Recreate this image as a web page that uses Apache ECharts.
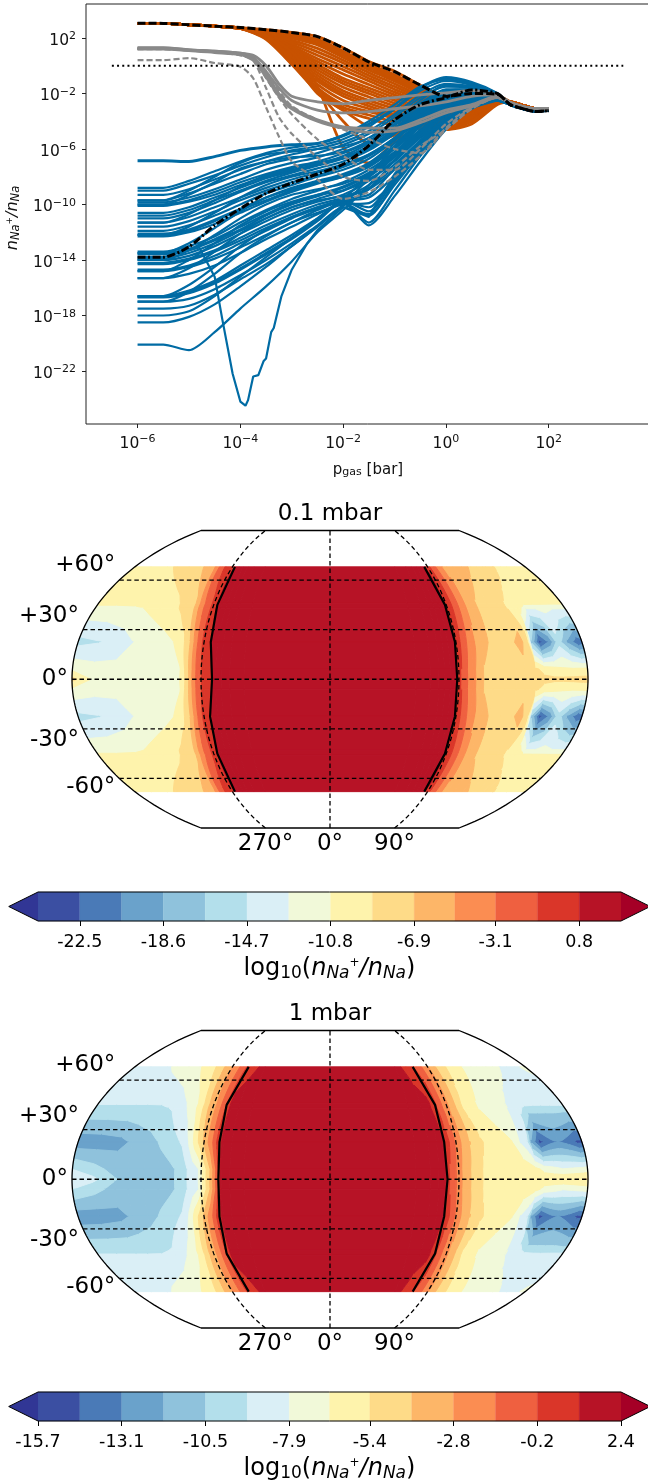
<!DOCTYPE html>
<html><head><meta charset="utf-8">
<style>html,body{margin:0;padding:0;background:#fff;overflow:hidden}#c{width:648px;height:1481px;filter:blur(0.4px)}</style>
<script src="https://cdn.jsdelivr.net/npm/echarts@6/dist/echarts.min.js"></script>
</head><body><div id="c"></div><script>
// ---------- profile chart data (log10 values) ----------
const pressureExp=[-6,-5.5,-5,-4.5,-4,-3.5,-3,-2.5,-2,-1.5,-1,-0.5,0,0.5,1];
const tailExp=[1.25,1.5,1.75,2];
const blueTail=[-2.8,-3.1,-3.3,-3.2];
const orangeTail=[-2.6,-2.85,-3.1,-3.1];
const greyTail=[-2.65,-2.95,-3.1,-3.1];
const blackTail=[-2.8,-3.1,-3.3,-3.24];
const blueLines=[
[-6.85,-6.85,-6.9,-6.55,-6.1,-5.85,-5.7,-5.6,-5.05,-4.2,-3.1,-1.6,-0.85,-1.2,-2],
[-8.8,-8.8,-8.3,-7.6,-6.9,-6.3,-5.9,-5.6,-5,-4,-2.8,-1.5,-1,-1.3,-2],
[-9,-9,-8.5,-7.9,-7.2,-6.6,-6.1,-5.8,-5.3,-4.4,-3.1,-1.8,-1.1,-1.4,-2.1],
[-9.3,-9.3,-8.9,-8.2,-7.5,-6.9,-6.4,-6,-5.5,-4.7,-3.5,-2.1,-1.3,-1.5,-2.1],
[-9.7,-9.7,-9.2,-8.5,-7.8,-7.1,-6.7,-6.3,-5.7,-4.9,-3.7,-2.3,-1.5,-1.6,-2.1],
[-9.85,-9.85,-9.5,-8.9,-8.2,-7.5,-7,-6.6,-6,-5.2,-4,-2.7,-1.7,-1.7,-2.2],
[-10,-10,-9.7,-9.1,-8.4,-7.8,-7.3,-6.9,-6.3,-5.5,-4.3,-3,-1.9,-1.8,-2.2],
[-10.1,-10.1,-9.8,-9.3,-8.6,-8,-7.5,-7.1,-6.5,-5.6,-4.5,-3.1,-2,-1.85,-2.2],
[-10.6,-10.6,-10.2,-9.5,-8.8,-8.1,-7.6,-7.1,-6.6,-5.8,-4.6,-3.2,-2.2,-1.9,-2.2],
[-11,-11,-10.6,-9.9,-9.1,-8.4,-7.9,-7.4,-6.9,-6.1,-4.9,-3.5,-2.4,-2,-2.3],
[-11.3,-11.3,-10.9,-10.2,-9.5,-8.8,-8.2,-7.7,-7.2,-6.4,-5.2,-3.7,-2.6,-2.1,-2.3],
[-11.9,-11.9,-11.5,-10.8,-10,-9.2,-8.6,-8,-7.5,-6.7,-5.4,-3.9,-2.8,-2.2,-2.3],
[-12.1,-12.1,-11.8,-11.1,-10.3,-9.5,-8.8,-8.3,-7.8,-7,-5.6,-4.1,-3,-2.3,-2.3],
[-12.3,-12.3,-12,-11.4,-10.6,-9.8,-9.1,-8.5,-8,-7.2,-5.9,-4.3,-3.1,-2.4,-2.4],
[-13.4,-13.4,-13,-12.3,-11.3,-10.4,-9.6,-9,-8.4,-7.5,-6.2,-4.6,-3.3,-2.5,-2.4],
[-13.5,-13.5,-13.2,-12.5,-11.6,-10.7,-9.9,-9.3,-8.7,-7.8,-6.4,-4.8,-3.5,-2.6,-2.4],
[-13.9,-13.9,-13.5,-12.8,-11.9,-11,-10.2,-9.6,-9,-8,-6.6,-5,-3.6,-2.6,-2.4],
[-14,-14,-13.7,-13,-12.1,-11.2,-10.4,-9.8,-9.3,-8.3,-6.8,-5.2,-3.8,-2.7,-2.4],
[-14.2,-14.2,-13.9,-13.3,-12.4,-11.5,-10.7,-10,-9.5,-8.6,-7.1,-5.4,-3.9,-2.8,-2.5],
[-14.7,-14.7,-14.4,-13.7,-12.8,-11.9,-11,-10.3,-9.6,-9.3,-7.4,-5.6,-4,-2.9,-2.5],
[-14.8,-14.8,-14.5,-13.9,-13.1,-12.2,-11.3,-10.4,-9.8,-10.2,-8,-5.9,-4.2,-2.9,-2.5],
[-15.3,-15.3,-15,-14.4,-13.5,-12.5,-11.6,-10.7,-9.9,-10.8,-8.4,-6.2,-4.3,-3,-2.5],
[-16.6,-16.6,-16.2,-15.5,-14.4,-13.3,-12.2,-11,-9.9,-11.3,-9,-6.5,-4.5,-3,-2.5],
[-16.7,-16.7,-16.4,-15.7,-14.7,-13.6,-12.5,-11.2,-9.8,-11.5,-9.4,-6.9,-4.6,-3.1,-2.5],
[-17,-17,-16.8,-16.1,-15.1,-14,-12.8,-11.5,-10.2,-10.7,-8.6,-6.3,-4.4,-3,-2.5],
[-17.5,-17.5,-17.3,-16.5,-15.4,-14.3,-13,-11.6,-10.1,-8.9,-6.8,-4.9,-3.3,-2.6,-2.5],
[-18,-18,-17.7,-16.6,-15.2,-13.8,-12.4,-11,-9.6,-7.9,-5.9,-4.2,-3,-2.5,-2.5],
[-18.5,-18.5,-18.1,-17.2,-15.9,-14.5,-13,-11.6,-10,-8.1,-5.8,-4,-2.9,-2.5,-2.5],
[-20.1,-20.1,-20.5,-19.2,-17.5,-15.9,-14.1,-12,-10.4,-8.6,-6.4,-4.3,-3,-2.5,-2.5],
[-10.8,-10.8,-10.4,-9.7,-9,-8.3,-7.7,-7.2,-6.7,-6,-4.8,-3.3,-2.3,-1.9,-2.2],
[-11.6,-11.6,-11.2,-10.5,-9.7,-9,-8.4,-7.9,-7.3,-6.5,-5.3,-3.8,-2.7,-2.2,-2.3],
[-12.2,-12.2,-11.9,-11.2,-10.4,-9.7,-9,-8.4,-7.9,-7.1,-5.8,-4.2,-3,-2.3,-2.3],
[-13.6,-13.6,-13.3,-12.6,-11.8,-10.8,-10,-9.4,-8.8,-7.9,-6.5,-4.9,-3.5,-2.6,-2.4],
[-14.3,-14.3,-14,-13.4,-12.6,-11.7,-10.9,-10.2,-9.6,-8.8,-7.3,-5.5,-4,-2.8,-2.5],
[-16.65,-16.65,-16.3,-15.6,-14.6,-13.5,-12.4,-11.1,-9.7,-10.5,-8.2,-6,-4.3,-3,-2.5],
[-9.7,-9.7,-9,-8,-7,-6.4,-6.2,-6,-5.8,-5.2,-4,-2.5,-1.4,-1.5,-2.1],
[-10,-10,-9.3,-8.4,-7.4,-6.9,-6.6,-6.5,-6.2,-5.4,-4.2,-2.8,-1.8,-1.7,-2.2],
[-11.3,-11.3,-10.7,-9.7,-8.7,-7.9,-7.4,-7,-6.6,-5.9,-4.7,-3.4,-2.2,-1.9,-2.2],
[-12.2,-12.2,-11.6,-10.6,-9.5,-8.6,-8,-7.6,-7.1,-6.4,-5.2,-3.6,-2.5,-2,-2.3],
[-13.5,-13.5,-12.8,-11.7,-10.5,-9.5,-8.9,-8.4,-8,-7.3,-6,-4.4,-3.1,-2.3,-2.3],
[-14,-14,-13.3,-12.2,-11,-10,-9.3,-8.9,-8.5,-7.7,-6.3,-4.7,-3.3,-2.5,-2.4],
[-14.8,-14.8,-14,-12.8,-11.5,-10.5,-9.8,-9.3,-9,-8.2,-6.9,-5.1,-3.6,-2.6,-2.4],
[-15.3,-15.3,-14.6,-13.4,-12.1,-11,-10.2,-9.7,-9.4,-8.9,-7.5,-5.4,-3.8,-2.8,-2.5],
[-16.6,-16.6,-15.8,-14.5,-13,-11.8,-10.9,-10.2,-9.7,-9.5,-7.9,-5.7,-4,-2.9,-2.5],
[-17,-17,-16.3,-15,-13.5,-12.3,-11.3,-10.6,-10,-9.9,-8.3,-6,-4.1,-3,-2.5]
];
const dipExp=[-6,-5.5,-5.2,-4.8,-4.5,-4.35,-4.15,-4,-3.9,-3.85,-3.75,-3.65,-3.55,-3.5,-3.4,-3.35,-3.2,-3,-2.7,-2.5,-2,-1.5,-1,-0.5,0,0.5,1];
const dipValues=[-13.8,-13.8,-13.5,-13.1,-15.2,-18.3,-22.2,-24.2,-24.5,-24.1,-22.4,-22.3,-21.3,-21.1,-19.2,-18.9,-16.6,-14.7,-12.8,-11.85,-10.2,-10.9,-7.8,-5.6,-4.2,-3,-2.5];
const orangeLines=[
[3.06,3.05,2.95,2.85,2.75,2.6,2.4,2.1,1.3,0.3,-0.4,-1.4,-2.2,-2,-2.1],
[3.06,3.05,2.95,2.85,2.7,2.55,2.3,1.9,1.05,0.1,-0.65,-1.55,-2.35,-2.15,-2.15],
[3.06,3.05,2.95,2.85,2.7,2.5,2.2,1.8,0.9,0,-0.8,-1.7,-2.5,-2.3,-2.2],
[3.06,3.05,2.95,2.85,2.7,2.45,2.1,1.65,0.75,-0.15,-0.95,-1.85,-2.65,-2.45,-2.25],
[3.06,3.05,2.95,2.85,2.7,2.4,2,1.5,0.6,-0.3,-1.1,-2,-2.8,-2.6,-2.3],
[3.06,3.05,2.95,2.85,2.7,2.38,1.85,1.25,0.4,-0.5,-1.3,-2.15,-2.95,-2.75,-2.35],
[3.06,3.05,2.95,2.85,2.7,2.35,1.7,1,0.2,-0.7,-1.5,-2.3,-3.1,-2.9,-2.4],
[3.06,3.05,2.95,2.85,2.7,2.32,1.55,0.75,-0.05,-0.9,-1.7,-2.45,-3.2,-3,-2.4],
[3.06,3.05,2.95,2.85,2.7,2.3,1.4,0.5,-0.3,-1.1,-1.9,-2.6,-3.3,-3.1,-2.4],
[3.06,3.05,2.95,2.85,2.7,2.28,1.3,0.3,-0.6,-1.35,-2.1,-2.8,-3.4,-3.2,-2.45],
[3.06,3.05,2.95,2.85,2.7,2.25,1.2,0.1,-0.9,-1.6,-2.3,-3,-3.5,-3.3,-2.5],
[3.06,3.05,2.95,2.85,2.7,2.22,1.1,-0.1,-1.1,-1.8,-2.5,-3.15,-3.6,-3.35,-2.5],
[3.06,3.05,2.95,2.85,2.7,2.2,1,-0.3,-1.3,-2,-2.7,-3.3,-3.7,-3.4,-2.5],
[3.06,3.05,2.95,2.85,2.7,2.18,0.85,-0.5,-1.55,-2.25,-2.9,-3.45,-3.8,-3.45,-2.5],
[3.06,3.05,2.95,2.85,2.7,2.15,0.7,-0.7,-1.8,-2.5,-3.1,-3.6,-3.9,-3.5,-2.5],
[3.06,3.05,2.95,2.85,2.7,2.12,0.55,-0.9,-2,-2.7,-3.3,-3.75,-4,-3.6,-2.55],
[3.06,3.05,2.95,2.85,2.7,2.1,0.4,-1.1,-2.2,-2.9,-3.5,-3.9,-4.1,-3.7,-2.6],
[3.06,3.05,2.95,2.85,2.7,2.05,0.3,-1.35,-2.5,-3.1,-3.65,-4.05,-4.2,-3.8,-2.6],
[3.06,3.05,2.95,2.85,2.7,2,0.2,-1.6,-2.8,-3.3,-3.8,-4.2,-4.3,-3.9,-2.6],
[3.06,3.05,2.95,2.85,2.7,1.95,0.15,-1.75,-3,-3.55,-4.05,-4.35,-4.4,-3.95,-2.65],
[3.06,3.05,2.95,2.85,2.7,1.9,0.1,-1.9,-3.2,-3.8,-4.3,-4.5,-4.5,-4,-2.7],
[3.06,3.05,2.95,2.85,2.7,2.2,1,-1.5,-5.9,-7,-5.5,-4.5,-4.5,-4,-2.7],
[3.06,3.05,2.95,2.85,2.7,2.15,0.6,-1.8,-4,-5.6,-5,-4.2,-4.4,-4,-2.7],
[3.06,3.05,2.95,2.85,2.7,2.2,0.4,-2,-3.2,-4.4,-4.8,-4.4,-4.6,-4.2,-2.8]
];
const greyExp=[-6,-5.5,-5,-4.5,-4,-3.75,-3.5,-3.25,-3,-2.5,-2,-1.5,-1,-0.5,0,0.5,1];
const greySolid=[
[1.3,1.3,1.15,1.05,0.9,0.75,0,-1.3,-2.2,-2.6,-2.75,-2.5,-2.3,-2.1,-1.95,-1.8,-2.1],
[1.27,1.27,1.15,1.05,0.9,0.6,-0.4,-1.6,-2.5,-3.2,-3.4,-3.3,-3.1,-2.9,-2.6,-2.2,-2.1],
[1.23,1.23,1.12,1,0.85,0.5,-0.6,-2,-3,-3.9,-4.4,-4.5,-4.5,-3.9,-3.2,-2.8,-2.2],
[1.2,1.2,1.1,0.95,0.8,0.4,-0.8,-2.2,-3.1,-4,-4.5,-4.8,-4.7,-4.1,-3.4,-2.9,-2.3]
];
const greyDashed=[
[0.4,0.4,0.55,0.2,-0.07,-0.9,-3,-5.1,-6.9,-8.2,-9.6,-9.1,-8,-6.5,-4.5,-3,-2.3],
[1.2,1.2,1.1,1,0.75,0.4,-1.6,-3.7,-4.9,-6.6,-8,-8.3,-7.3,-5.8,-4.6,-3.1,-2.3],
[1.22,1.22,1.1,1,0.8,0.5,-0.9,-2.3,-3.5,-5.3,-6.5,-7.5,-7.5,-6,-4.2,-3,-2.3],
[1.25,1.25,1.12,1,0.85,0.55,-0.5,-1.8,-2.9,-3.9,-4.6,-5.3,-6,-6.3,-4.6,-3.1,-2.3]
];
const blackDashed=[3.06,3.05,2.95,2.85,2.75,2.6,2.4,2.1,1.28,0.27,-0.43,-1.39,-2.2,-2,-2.05];
const blackDashDot=[-13.8,-13.8,-13.05,-11.5,-10.3,-9.2,-8.45,-7.8,-7.1,-5.75,-3.9,-2.8,-2.3,-1.75,-2];
const dottedExp=[-6.5,3.45];
const dottedValue=[0,0];
const xTicks=[-6,-4,-2,0,2];
const yTicks=[2,-2,-6,-10,-14,-18,-22];

// ---------- map data: log10(nNa+/nNa) on a lon/lat grid ----------
const lonNodes=[-180,-165,-150,-141,-130,-120,-112,-105,-100,-96,-92,-88,-84,-80,-76,-70,-60,60,70,76,80,84,88,92,96,100,104,108,114,122,130,136,141,144,150,157,163,170,177,180];
const latNodes=[68,46,43,22.5,6,0,-6,-22.5,-43,-46,-68];
const a68=[-10,-9.7,-9.1,-8.7,-8.1,-7.3,-6.4,-4.8,-2,-0.9,-0.4,0.8,2,2.3,2.5,2.6,2.7, 2.7,2.6,2.5,2.3,1.5,0.75,-1.16,-2.7,-3.8,-5.04,-5.5,-6,-6.6,-7.05,-7.5,-7.9,-8.1,-8.7,-9.4,-9.8,-10,-10,-10];
const a46=[-10.4,-10.4,-10.3,-10.2,-9.8,-9.3,-8.3,-7.4,-4.6,-2.7,-1.4,0.5,2,2.3,2.5,2.6,2.7, 2.7,2.6,2.5,2.3,2,1.1,-0.4,-1.9,-3.5,-4.9,-5.7,-7,-7.7,-8.4,-8.95,-9.5,-9.8,-10.2,-10.3,-10.4,-10.4,-10.4,-10.4];
const a43=[-11.4,-11.4,-11.2,-10.7,-10,-9.4,-8.4,-7.4,-4.6,-2.7,-1.4,0.5,2,2.3,2.5,2.6,2.7, 2.7,2.6,2.5,2.3,2,1.1,-0.4,-1.9,-3.5,-4.9,-5.7,-7,-7.7,-8.4,-8.9,-9.3,-9.6,-12.6,-12.6,-12.3,-12.6,-12.6,-12.6];
const a22=[-15.3,-14.8,-13.8,-12.8,-12.2,-11.5,-10.86,-9.3,-6.98,-4.2,-1.4,-0.3,0.9,2,2.4,2.6,2.7, 2.7,2.6,2.5,2.3,1.5,0.95,-0.7,-2.6,-3.9,-5.1,-5.9,-7.1,-7.5,-7.3,-6,-8.6,-17,-23,-20,-15.5,-19,-22,-21.5];
const a06=[-11.2,-12,-12.2,-12.1,-11.9,-11.7,-11.4,-11,-7.8,-4.7,-1.9,-0.6,0.5,1.6,2.3,2.6,2.7, 2.7,2.6,2.5,2.2,1.7,0.95,-1.16,-3.1,-4.4,-5.8,-7.1,-7.5,-7.6,-7.7,-7.9,-8.1,-8.5,-9.5,-10,-10.5,-10.5,-10.3,-10.3];
const a00=[-8.2,-11.2,-12,-12,-11.9,-11.8,-11.5,-10.9,-8.2,-4.7,-1.9,-0.6,0.4,1.5,2.3,2.6,2.7, 2.7,2.6,2.5,2.2,1.7,0.95,-1.16,-3.1,-4.4,-5.8,-7.1,-7.5,-7.6,-7.7,-7.9,-8.1,-8.2,-8.4,-8.5,-8.4,-8.3,-8.2,-8.2];
const b68=[-8.6,-8.4,-8.05,-7.7,-7.25,-6.8,-6.1,-5.4,-4.6,-3.9,-3.2,-2.5,-1.7,-0.85,-0.05,0.6,1.7, 1.8,0.5,-0.1,-0.7,-1.4,-2.2,-3.1,-3.9,-4.5,-5.1,-5.55,-6.05,-6.7,-7,-7.25,-7.4,-7.5,-7.7,-7.94,-8.1,-8.15,-7.8,-7.7];
const b46=[-9.1,-9.1,-9.1,-9.1,-9.1,-8.7,-8,-7.2,-6.2,-5,-3.7,-2.85,-1.55,-0.19,1.6,2,2.2, 2,1.7,1.4,0.5,-0.9,-1.9,-2.9,-3.9,-5.2,-5.7,-6.1,-6.7,-7.15,-7.6,-7.9,-8.2,-8.3,-8.5,-8.6,-8.6,-8.6,-8.6,-8.6];
const b43=[-9.5,-9.5,-9.5,-9.5,-9.4,-9.1,-8.3,-7.2,-6.2,-5,-3.7,-2.85,-1.55,-0.19,1.6,2,2.2, 2,1.7,1.4,0.5,-0.9,-1.9,-2.9,-3.9,-5.2,-5.7,-6.1,-6.7,-7.15,-7.6,-7.9,-8.3,-8.6,-9.8,-10,-10.1,-10,-10,-10];
const b22=[-12.6,-12.5,-12.2,-11.6,-11,-10.3,-9.6,-9,-7.6,-6,-4.7,-3.1,-1.6,0.3,1.6,2,2.2, 2.2,2,1.8,1.4,0.2,-1.1,-2.5,-3.3,-4.07,-4.7,-5.3,-5.7,-6.2,-6.6,-8,-9.2,-12,-14.8,-13.5,-13,-13.6,-14.7,-14.7];
const b06=[-9.2,-10,-11,-11.2,-11.3,-11.1,-10.8,-10.2,-9.24,-8.6,-7.94,-6.1,-4.2,-1.6,1.5,2,2.2, 2.2,2,1.7,1.5,-0.3,-1.5,-2.8,-3.7,-4.4,-5.2,-5.5,-5.7,-5.8,-5.9,-5.9,-6.1,-6.3,-7,-7.4,-7.8,-7.6,-7.4,-7.2];
const b00=[-8.2,-8.9,-10.4,-11,-11.2,-11.1,-10.8,-10.2,-9.24,-8.6,-7.94,-6.1,-4.2,-1.6,1.5,2,2.2, 2.2,2,1.7,1.5,-0.3,-1.5,-2.8,-3.7,-4.4,-5.2,-5.5,-5.7,-5.8,-5.9,-5.9,-6,-6,-6,-5.8,-5.6,-5.5,-5.4,-5.4];
const field1=[a68,a46,a43,a22,a06,a00,a06,a22,a43,a46,a68];
const field2=[b68,b46,b43,b22,b06,b00,b06,b22,b43,b46,b68];
const levels1=[-24.45,-22.5,-20.55,-18.6,-16.65,-14.7,-12.75,-10.8,-8.85,-6.9,-5,-3.1,-1.15,0.8,2.75];
const levels2=[-15.7,-14.4,-13.1,-11.8,-10.5,-9.2,-7.9,-6.65,-5.4,-4.1,-2.8,-1.5,-0.2,1.1,2.4];
const cbarTicks1=[-22.5,-18.6,-14.7,-10.8,-6.9,-3.1,0.8];
const cbarTicks2=[-15.7,-13.1,-10.5,-7.9,-5.4,-2.8,-0.2,2.4];
const bandColors=['#3b4fa2','#4a7ab7','#6aa2cb','#8fc2dc','#b3dfeb','#daeff6','#f1f9d9','#fef3ac','#fedb88','#fdb668','#fb8d52','#ef6040','#da3629','#b71326'];
const underColor='#313695', overColor='#a50026';
const contourLat=[68,45,22.5,0,-22.5,-45,-68];
const zeroWest1=[-87.7,-87.2,-85.2,-82.3,-85.7,-87.2,-87.7];
const zeroEast1=[87,89,89.3,88.8,89.3,89,87];
const zeroWest2=[-75,-80,-79,-77.9,-79,-80,-75];
const zeroEast2=[76.3,81.3,81.6,82,81.6,81.3,76.3];
const latTicks=[60,30,0,-30,-60];
const latTickLabels=['+60°','+30°','0°','-30°','-60°'];
const latLabelShift=[-15,-14,0,11,9];
const lonTicks=[-90,0,90];
const lonTickLabels=['270°','0°','90°'];

// ---------- helpers ----------
const FONT='DejaVu Sans';
const D2R=Math.PI/180;
function kav7(lon,lat){const p=lat*D2R,l=lon*D2R;return [1.5*l/Math.PI*Math.sqrt(Math.PI*Math.PI/3-p*p),p];}
const XMAX=1.5*Math.sqrt(Math.PI*Math.PI/3), YMAX=Math.PI/2;

function clip(poly,level,keepAbove){
  const out=[];
  for(let i=0;i<poly.length;i++){
    const a=poly[i],b=poly[(i+1)%poly.length];
    const ina=keepAbove?a[2]>=level:a[2]<=level, inb=keepAbove?b[2]>=level:b[2]<=level;
    if(ina)out.push(a);
    if(ina!==inb){const t=(level-a[2])/(b[2]-a[2]);out.push([a[0]+t*(b[0]-a[0]),a[1]+t*(b[1]-a[1]),level]);}
  }
  return out;
}
function densify(poly){
  const out=[];
  for(let i=0;i<poly.length;i++){
    const a=poly[i],b=poly[(i+1)%poly.length];
    const n=Math.max(1,Math.ceil(Math.abs(b[1]-a[1])/4));
    for(let k=0;k<n;k++){const t=k/n;out.push(kav7(a[0]+t*(b[0]-a[0]),a[1]+t*(b[1]-a[1])));}
  }
  return out;
}
function contourPieces(field,levels){
  const pieces=[];
  const cols=[underColor].concat(bandColors,[overColor]);
  for(let r=0;r<latNodes.length-1;r++)for(let c=0;c<lonNodes.length-1;c++){
    const quad=[[lonNodes[c],latNodes[r],field[r][c]],[lonNodes[c+1],latNodes[r],field[r][c+1]],
                [lonNodes[c+1],latNodes[r+1],field[r+1][c+1]],[lonNodes[c],latNodes[r+1],field[r+1][c]]];
    for(let k=0;k<cols.length;k++){
      let poly=quad;
      if(k>0)poly=clip(poly,levels[k-1],true);
      if(k<cols.length-1&&poly.length)poly=clip(poly,levels[k],false);
      if(poly.length>=3)pieces.push({color:cols[k],pts:densify(poly)});
    }
  }
  return pieces;
}
function lineSeries(xs,ys,style,extra){
  return Object.assign({type:'line',xAxisIndex:0,yAxisIndex:0,showSymbol:false,silent:true,animation:false,smooth:0.25,
    lineStyle:style,data:xs.map((e,i)=>[Math.pow(10,e),Math.pow(10,ys[i])])},extra||{});
}
const xAll=pressureExp.concat(tailExp), gAll=greyExp.concat(tailExp);
const series=[];
orangeLines.forEach(l=>series.push(lineSeries(xAll,l.concat(orangeTail),{color:'#C85200',width:2.8})));
blueLines.forEach((l,i)=>series.push(lineSeries(xAll,l.concat(blueTail),{color:'#006BA4',width:i===0?3:2.2})));
series.push(lineSeries(dipExp.concat(tailExp),dipValues.concat(blueTail),{color:'#006BA4',width:2.2},{smooth:false}));
greyDashed.forEach(l=>series.push(lineSeries(gAll,l.concat(greyTail),{color:'#898989',width:2.2,type:[6,3]})));
greySolid.forEach(l=>series.push(lineSeries(gAll,l.concat(greyTail),{color:'#898989',width:2.8})));
series.push(lineSeries(xAll,blackDashed.concat(blackTail),{color:'#000',width:3,type:[8,3]}));
series.push(lineSeries(xAll,blackDashDot.concat(blackTail),{color:'#000',width:3,type:[8,2.5,2,2.5]}));
series.push(lineSeries(dottedExp,dottedValue,{color:'#000',width:2,type:[2,3.2]},{smooth:false}));

function addMap(gi,field,levels,west,east){
  const pieces=contourPieces(field,levels);
  series.push({type:'custom',xAxisIndex:gi,yAxisIndex:gi,silent:true,animation:false,clip:false,z:2,
    data:pieces.map((p,i)=>i),
    renderItem(params,api){
      const p=pieces[params.dataIndex];
      return {type:'polygon',shape:{points:p.pts.map(q=>api.coord(q))},
        style:{fill:p.color,stroke:p.color,lineWidth:1}};
    }});
  const ml=(d,style,z)=>series.push({type:'line',xAxisIndex:gi,yAxisIndex:gi,showSymbol:false,silent:true,animation:false,z:z||3,clip:false,lineStyle:style,data:d});
  const dash={color:'#000',width:1.3,type:[4.5,3]};
  latTicks.forEach(lat=>ml([kav7(-180,lat),kav7(180,lat)],dash));
  lonTicks.forEach(lon=>{const d=[];for(let lat=-90;lat<=90;lat+=3)d.push(kav7(lon,lat));ml(d,dash);});
  const zs={color:'#000',width:2.2};
  ml(contourLat.map((la,i)=>kav7(west[i],la)),zs,4);
  ml(contourLat.map((la,i)=>kav7(east[i],la)),zs,4);
  const o=[];for(let lat=-90;lat<=90;lat+=2)o.push(kav7(-180,lat));
  for(let lat=90;lat>=-90;lat-=2)o.push(kav7(180,lat));o.push(o[0]);
  ml(o,{color:'#000',width:1.3},5);
  const labelStyle={show:true,color:'#000',fontFamily:FONT,fontSize:23};
  series.push({type:'scatter',xAxisIndex:gi,yAxisIndex:gi,symbolSize:0,itemStyle:{opacity:1},silent:true,animation:false,clip:false,
    data:latTicks.map((lat,i)=>({value:kav7(-180,lat),label:Object.assign({},labelStyle,{position:'left',distance:4,offset:[0,latLabelShift[i]],formatter:latTickLabels[i]})}))});
  series.push({type:'scatter',xAxisIndex:gi,yAxisIndex:gi,symbolSize:0,itemStyle:{opacity:1},silent:true,animation:false,clip:false,
    data:lonTicks.map((lon,i)=>({value:kav7(lon,-90),label:Object.assign({},labelStyle,{position:'bottom',distance:5,formatter:lonTickLabels[i]})}))});
}
addMap(1,field1,levels1,zeroWest1,zeroEast1);
addMap(2,field2,levels2,zeroWest2,zeroEast2);

function addBar(gi,levels){
  const step=levels[1]-levels[0], lo=levels[0], hi=levels[levels.length-1], ext=0.7*step;
  series.push({type:'custom',xAxisIndex:gi,yAxisIndex:gi,silent:true,animation:false,clip:false,z:2,
    data:bandColors.map((c,i)=>[levels[i],levels[i+1],i]),
    renderItem(params,api){
      const a=api.coord([api.value(0),0]),b=api.coord([api.value(1),1]);
      const c=bandColors[api.value(2)];
      return {type:'rect',shape:{x:a[0],y:b[1],width:b[0]-a[0],height:a[1]-b[1]},style:{fill:c,stroke:c,lineWidth:0.3}};
    }});
  series.push({type:'custom',xAxisIndex:gi,yAxisIndex:gi,silent:true,animation:false,clip:false,z:3,
    data:[[0]],
    renderItem(params,api){
      const P=(x,y)=>api.coord([x,y]);
      return {type:'group',children:[
        {type:'polygon',shape:{points:[P(lo,0),P(lo-ext,0.5),P(lo,1)]},style:{fill:underColor}},
        {type:'polygon',shape:{points:[P(hi,0),P(hi+ext,0.5),P(hi,1)]},style:{fill:overColor}},
        {type:'polygon',shape:{points:[P(lo,0),P(lo-ext,0.5),P(lo,1),P(hi,1),P(hi+ext,0.5),P(hi,0)]},style:{fill:'none',stroke:'#000',lineWidth:1}}
      ]};
    }});
}
addBar(3,levels1);
addBar(4,levels2);

const mathRich={
  t:{fontFamily:FONT,fontSize:24,color:'#000'},
  i:{fontFamily:FONT,fontSize:24,fontStyle:'italic',color:'#000'},
  s:{fontFamily:FONT,fontSize:17,color:'#000',padding:[10,0,0,0]},
  si:{fontFamily:FONT,fontSize:17,fontStyle:'italic',color:'#000',padding:[10,0,0,0]},
  u:{fontFamily:FONT,fontSize:12,color:'#000',padding:[0,0,11,0]}
};
const cbName='{t|log}{s|10}{t|(}{i|n}{si|Na}{u|+}{i|/n}{si|Na}{t|)}';
function mapAxis(gi){return [
  {gridIndex:gi,type:'value',show:false,min:-XMAX,max:XMAX},
  {gridIndex:gi,type:'value',show:false,min:-YMAX,max:YMAX}];}
function barAxes(gi,levels,ticks){return [
  {gridIndex:gi,type:'value',min:levels[0],max:levels[levels.length-1],position:'bottom',
   axisLine:{show:false},splitLine:{show:false},
   axisTick:{show:true,length:5,customValues:ticks,lineStyle:{color:'#000',width:1}},
   axisLabel:{show:true,customValues:ticks,margin:12,color:'#000',fontFamily:FONT,fontSize:17.5,formatter:v=>(+v).toFixed(1),hideOverlap:false},
   name:cbName,nameLocation:'middle',nameGap:34,nameTextStyle:{rich:mathRich}},
  {gridIndex:gi,type:'value',show:false,min:0,max:1}];}

const axisLabelRich={b:{fontFamily:FONT,fontSize:15.5,color:'#111'},p:{fontFamily:FONT,fontSize:11,color:'#111',padding:[0,0,8,0]}};
function powLabel(v){const e=Math.round(Math.log10(v));return '{b|10}{p|'+(e<0?'−'+(-e):e)+'}';}
const xAxisTop={gridIndex:0,type:'log',logBase:10,min:Math.pow(10,-7.003),max:Math.pow(10,3.97),
  axisLine:{show:false},splitLine:{show:false},minorTick:{show:false},
  axisTick:{show:true,length:4,customValues:xTicks.map(e=>Math.pow(10,e)),lineStyle:{color:'#222'}},
  axisLabel:{show:true,margin:10,customValues:xTicks.map(e=>Math.pow(10,e)),formatter:powLabel,rich:axisLabelRich,hideOverlap:false},
  name:'{a|p}{s|gas}{a| [bar]}',nameLocation:'middle',nameGap:38,
  nameTextStyle:{rich:{a:{fontFamily:FONT,fontSize:15,color:'#111'},s:{fontFamily:FONT,fontSize:11,color:'#111',padding:[5,0,0,0]}}}};
const yAxisTop={gridIndex:0,type:'log',logBase:10,min:Math.pow(10,-25.82),max:Math.pow(10,4.45),
  axisLine:{show:false},splitLine:{show:false},minorTick:{show:false},
  axisTick:{show:true,length:4,customValues:yTicks.map(e=>Math.pow(10,e)),lineStyle:{color:'#222'}},
  axisLabel:{show:true,margin:10,padding:[5,0,0,0],customValues:yTicks.map(e=>Math.pow(10,e)),formatter:powLabel,rich:axisLabelRich,hideOverlap:false},
  name:'{i|n}{s|Na}{u|+}{i|/n}{s|Na}',nameLocation:'middle',nameRotate:90,nameGap:60,
  nameTextStyle:{padding:[0,8,0,0],rich:{i:{fontFamily:FONT,fontSize:16,fontStyle:'italic',color:'#111'},s:{fontFamily:FONT,fontSize:11.5,fontStyle:'italic',color:'#111',padding:[6,0,0,0]},u:{fontFamily:FONT,fontSize:9,color:'#111',padding:[0,0,7,0]}}}};

const m1=mapAxis(1),m2=mapAxis(2),c1=barAxes(3,levels1,cbarTicks1),c2=barAxes(4,levels2,cbarTicks2);
const chart=echarts.init(document.getElementById('c'),null,{renderer:'canvas',width:648,height:1481});
chart.setOption({
  animation:false,backgroundColor:'#fff',
  title:[
    {text:'0.1 mbar',left:325,top:498,textAlign:'center',textStyle:{fontFamily:FONT,fontSize:23,fontWeight:'normal',color:'#000'}},
    {text:'1 mbar',left:325,top:998,textAlign:'center',textStyle:{fontFamily:FONT,fontSize:23,fontWeight:'normal',color:'#000'}}
  ],
  grid:[
    {left:86,top:4,width:564,height:420,show:true,borderColor:'#222',borderWidth:1,backgroundColor:'transparent',outerBoundsMode:'none'},
    {left:72,top:530.5,width:516,height:297.5,outerBoundsMode:'none'},
    {left:72,top:1030.5,width:516,height:297.5,outerBoundsMode:'none'},
    {left:38,top:892,width:583,height:29,outerBoundsMode:'none'},
    {left:38,top:1392,width:583,height:29,outerBoundsMode:'none'}
  ],
  xAxis:[xAxisTop,m1[0],m2[0],c1[0],c2[0]],
  yAxis:[yAxisTop,m1[1],m2[1],c1[1],c2[1]],
  series
});
</script></body></html>
